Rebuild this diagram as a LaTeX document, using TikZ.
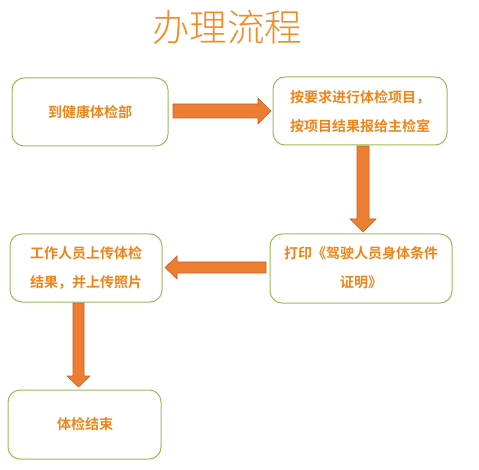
\documentclass[tikz,border=0pt]{standalone}
\usepackage{fontspec}
\newfontfamily\cjk{Noto Sans CJK SC}
\newfontfamily\cjkb{Noto Sans CJK SC Bold}
\newfontfamily\cjkl{Noto Sans CJK SC Light}
\definecolor{boxgreen}{HTML}{9BBB59}
\definecolor{txtorange}{HTML}{EF8419}
\definecolor{titleorange}{HTML}{F58A23}
\definecolor{arrowfill}{HTML}{ED7D31}
\definecolor{arrowline}{HTML}{C0612A}
\begin{document}
\begin{tikzpicture}[x=1pt,y=-1pt,
  stepbox/.style={draw=boxgreen, line width=1pt, rounded corners=12pt, fill=white},
  boxtext/.style={text=txtorange, font=\cjkb\fontsize{14}{29}\selectfont, align=center},
  blockarrow/.style={fill=arrowfill, draw=arrowline, line width=0.6pt, line join=miter}]
\useasboundingbox (0,0) rectangle (479,470);
% title
\node[text=titleorange, font=\cjkl\fontsize{37.5}{40}\selectfont] (title) at (227,27) {办理流程};
% boxes
\draw[stepbox] (12,78) rectangle (168,146);
\node[boxtext] (b1) at (90,112) {到健康体检部};
\draw[stepbox] (273,77) rectangle (447,145);
\node[boxtext] (b2) at (360,112) {按要求进行体检项目，\\按项目结果报给主检室};
\draw[stepbox] (270,234) rectangle (452,303);
\node[boxtext] (b3) at (361,268) {打印《驾驶人员身体条件\\证明》};
\draw[stepbox] (10,234) rectangle (162,302);
\node[boxtext] (b4) at (86,268) {工作人员上传体检\\结果，并上传照片};
\draw[stepbox] (8,390) rectangle (161,459);
\node[boxtext] (b5) at (85,424) {体检结束};
% block arrows
\draw[blockarrow] (173,104) -- (258,104) -- (258,98) -- (271,111) -- (258,124) -- (258,118) -- (173,118) -- cycle;
\draw[blockarrow] (357,146) -- (369,146) -- (369,219) -- (376,219) -- (363,232) -- (350,219) -- (357,219) -- cycle;
\draw[blockarrow] (266,262) -- (177,262) -- (177,256) -- (165,267.5) -- (177,279) -- (177,273) -- (266,273) -- cycle;
\draw[blockarrow] (73,303) -- (84,303) -- (84,376) -- (90,376) -- (78.5,387) -- (67,376) -- (73,376) -- cycle;
\end{tikzpicture}
\end{document}
